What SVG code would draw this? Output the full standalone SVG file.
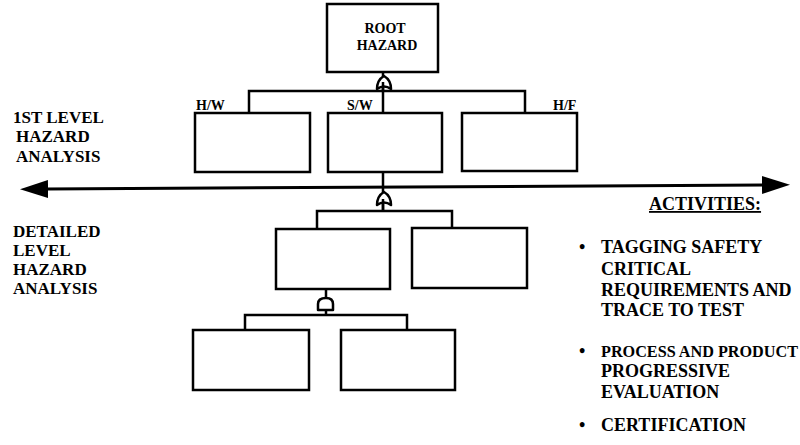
<svg xmlns="http://www.w3.org/2000/svg" width="800" height="445" viewBox="0 0 800 445">
<defs>
<style>
.box{fill:#fff;stroke:#000;stroke-width:2.5}
.ln{fill:none;stroke:#000;stroke-width:2.5}
.gate{fill:#fff;stroke:#000;stroke-width:2.5;stroke-linejoin:round}
.t{font-family:"Liberation Serif","Times New Roman",serif;font-weight:bold;fill:#000}
.s{font-size:14px}
.m{font-size:14px}
.l{font-size:17px}
.r{font-size:18px}
</style>
<marker id="ah" viewBox="0 0 28 18" refX="2" refY="9" markerWidth="28" markerHeight="18" markerUnits="userSpaceOnUse" orient="auto-start-reverse">
<path d="M0,0 L28,9 L0,18 Z" fill="#000"/>
</marker>
</defs>
<rect width="800" height="445" fill="#fff"/>

<g id="connectors">
<line class="ln" x1="383" y1="72" x2="383" y2="91"/>
<polyline class="ln" points="249,113 249,91 525,91 525,113"/>
<line class="ln" x1="383" y1="91" x2="383" y2="113"/>
<line class="ln" x1="383" y1="172" x2="383" y2="211"/>
<polyline class="ln" points="317,229 317,211 452,211 452,229"/>
<line class="ln" x1="326" y1="289" x2="326" y2="315"/>
<polyline class="ln" points="245,330 245,315 407,315 407,330"/>
<line x1="46" y1="189" x2="764" y2="185" stroke="#000" stroke-width="3" marker-start="url(#ah)" marker-end="url(#ah)"/>
</g>

<g id="gate-or-1">
<path class="gate" d="M377,89 Q384,84 391,89 Q391,80 384,76 Q377,80 377,89 Z"/>
<line class="ln" x1="383" y1="82" x2="383" y2="91"/>
</g>
<g id="gate-or-2">
<path class="gate" d="M377,205 Q384,200 391,205 Q391,196 384,192 Q377,196 377,205 Z"/>
<line class="ln" x1="383" y1="199" x2="383" y2="211"/>
</g>
<g id="gate-and">
<path class="gate" d="M318,310 L318,304 Q318,298 326,298 Q333,298 333,304 L333,310 Z"/>
</g>

<g id="root">
<rect class="box" x="327" y="4" width="111" height="68"/>
<text class="t m" x="385" y="33" text-anchor="middle">ROOT</text>
<text class="t m" x="387" y="50" text-anchor="middle">HAZARD</text>
</g>
<g id="hw">
<rect class="box" x="195" y="113" width="115" height="59"/>
<text class="t s" x="196" y="110">H/W</text>
</g>
<g id="sw">
<rect class="box" x="328" y="113" width="114" height="59"/>
<text class="t s" x="347" y="110">S/W</text>
</g>
<g id="hf">
<rect class="box" x="462" y="113" width="115" height="58"/>
<text class="t s" x="553" y="110">H/F</text>
</g>
<g id="d1"><rect class="box" x="276" y="229" width="114" height="60"/></g>
<g id="d2"><rect class="box" x="412" y="228" width="115" height="60"/></g>
<g id="d3"><rect class="box" x="193" y="330" width="116" height="60"/></g>
<g id="d4"><rect class="box" x="341" y="330" width="114" height="60"/></g>

<g id="label-first">
<text class="t l" x="13" y="123">1ST LEVEL</text>
<text class="t l" x="16" y="142">HAZARD</text>
<text class="t l" x="16" y="162">ANALYSIS</text>
</g>
<g id="label-detailed">
<text class="t l" x="13" y="237">DETAILED</text>
<text class="t l" x="13" y="256">LEVEL</text>
<text class="t l" x="13" y="275">HAZARD</text>
<text class="t l" x="13" y="294">ANALYSIS</text>
</g>
<g id="activities">
<text class="t r" x="649" y="210" text-decoration="underline">ACTIVITIES:</text>
<text class="t r" x="579" y="253">•</text>
<text class="t r" x="601" y="253">TAGGING SAFETY</text>
<text class="t r" x="601" y="275">CRITICAL</text>
<text class="t r" x="601" y="296">REQUIREMENTS AND</text>
<text class="t r" x="601" y="316">TRACE TO TEST</text>
<text class="t r" x="579" y="357">•</text>
<text class="t" x="601" y="357" font-size="16.2">PROCESS AND PRODUCT</text>
<text class="t r" x="601" y="377">PROGRESSIVE</text>
<text class="t r" x="601" y="398">EVALUATION</text>
<text class="t r" x="579" y="431">•</text>
<text class="t r" x="601" y="431">CERTIFICATION</text>
</g>
</svg>
